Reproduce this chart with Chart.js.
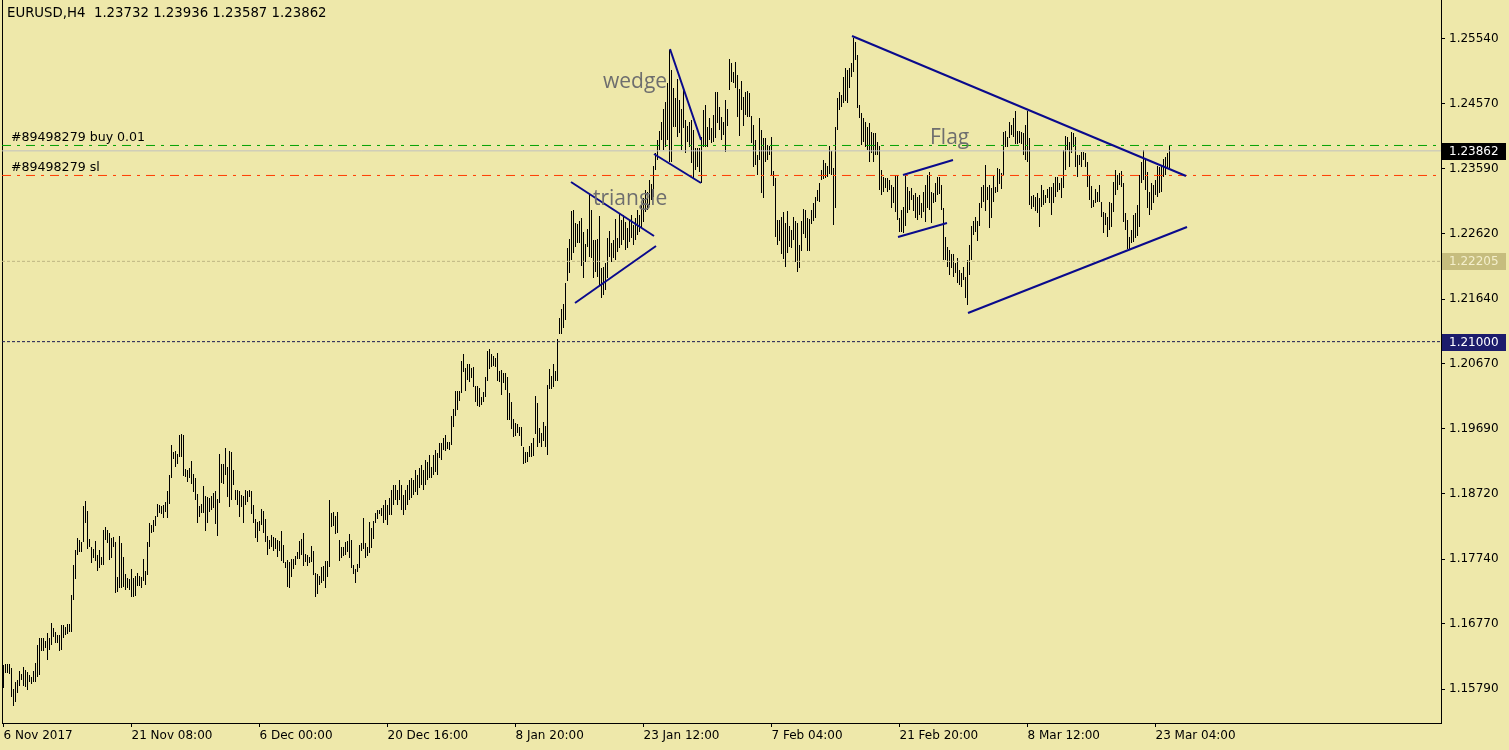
<!DOCTYPE html>
<html><head><meta charset="utf-8">
<script src="https://cdn.jsdelivr.net/npm/chart.js@4.4.1/dist/chart.umd.min.js"></script>
<style>html,body{margin:0;padding:0;background:#EEE8AA;overflow:hidden}canvas{display:block;background:#EEE8AA}</style>
</head><body><canvas id="c" width="1509" height="750"></canvas>
<script>
// ---------- data ----------
const headerText = "EURUSD,H4  1.23732 1.23936 1.23587 1.23862";
const dateTickIndex = [0,64,128,192,256,320,384,448,512,576];
const dateTickLabels = ["6 Nov 2017","21 Nov 08:00","6 Dec 00:00","20 Dec 16:00","8 Jan 20:00","23 Jan 12:00","7 Feb 04:00","21 Feb 20:00","8 Mar 12:00","23 Mar 04:00"];
const priceTicks = [1.2554,1.2457,1.2359,1.2262,1.2164,1.2067,1.1969,1.1872,1.1774,1.1677,1.1579];

const highs = [
1.16150,1.16165,1.16165,1.16165,1.16105,1.15790,1.15895,1.15925,1.16060,1.16015,
1.16120,1.16075,1.16045,1.16000,1.15970,1.16060,1.16180,1.16450,1.16555,1.16555,
1.16555,1.16510,1.16630,1.16555,1.16780,1.16705,1.16645,1.16600,1.16600,1.16750,
1.16750,1.16720,1.16765,1.16765,1.17200,1.17650,1.17875,1.18055,1.18025,1.17995,
1.18535,1.18610,1.18460,1.18040,1.17920,1.17890,1.18010,1.17800,1.17875,1.17770,
1.18175,1.18220,1.18175,1.18130,1.18055,1.18070,1.17995,1.17470,1.18085,1.17980,
1.17770,1.17515,1.17455,1.17440,1.17590,1.17455,1.17485,1.17530,1.17485,1.17470,
1.17740,1.17560,1.17995,1.18280,1.18250,1.18325,1.18385,1.18565,1.18550,1.18535,
1.18550,1.18595,1.18760,1.19000,1.19450,1.19345,1.19360,1.19315,1.19600,1.19615,
1.19600,1.19090,1.19075,1.19105,1.19210,1.19015,1.18955,1.18715,1.18535,1.18565,
1.18835,1.18685,1.18670,1.18655,1.18685,1.18730,1.18760,1.18640,1.19315,1.19165,
1.19165,1.19405,1.19120,1.19360,1.19345,1.19075,1.18775,1.18775,1.18760,1.18700,
1.18685,1.18775,1.18760,1.18775,1.18760,1.18550,1.18340,1.18295,1.18310,1.18490,
1.18460,1.18340,1.18085,1.18025,1.18100,1.18070,1.18055,1.18025,1.18010,1.18160,
1.17950,1.17695,1.17725,1.17695,1.17740,1.17740,1.17785,1.17845,1.18010,1.18040,
1.18130,1.17815,1.17800,1.17770,1.17935,1.17860,1.17530,1.17515,1.17485,1.17620,
1.17635,1.17710,1.17710,1.18625,1.18430,1.18445,1.18385,1.18445,1.18025,1.17920,
1.17920,1.17995,1.18010,1.18115,1.18025,1.17650,1.17590,1.17665,1.17950,1.17980,
1.18355,1.17980,1.17920,1.18295,1.18205,1.18310,1.18430,1.18475,1.18475,1.18505,
1.18550,1.18625,1.18550,1.18655,1.18775,1.18850,1.18850,1.18775,1.18925,1.18850,
1.18700,1.18775,1.18850,1.18925,1.18955,1.18925,1.19075,1.19000,1.19105,1.19150,
1.19075,1.19225,1.19195,1.19300,1.19120,1.19300,1.19375,1.19330,1.19480,1.19480,
1.19555,1.19600,1.19495,1.19495,1.19885,1.19990,1.20260,1.20260,1.20260,1.20710,
1.20815,1.20605,1.20665,1.20665,1.20605,1.20620,1.20335,1.20335,1.20305,1.20170,
1.20245,1.20470,1.20860,1.20890,1.20815,1.20785,1.20755,1.20830,1.20560,1.20575,
1.20530,1.20530,1.20470,1.20230,1.20095,1.19840,1.19780,1.19765,1.19720,1.19720,
1.19420,1.19345,1.19345,1.19435,1.19480,1.19555,1.20185,1.20080,1.19705,1.19630,
1.19795,1.19735,1.20350,1.20590,1.20485,1.20665,1.20560,1.21040,1.21355,1.21490,
1.21565,1.21880,1.22405,1.22540,1.22960,1.22975,1.22780,1.22765,1.22810,1.22855,
1.22645,1.22465,1.22690,1.23215,1.22975,1.22525,1.22525,1.22540,1.22885,1.22105,
1.22120,1.22180,1.22555,1.22660,1.22480,1.22525,1.22840,1.22555,1.22930,1.22825,
1.22900,1.22795,1.22705,1.22825,1.22900,1.22750,1.22855,1.22975,1.22900,1.23050,
1.23155,1.23275,1.23245,1.23425,1.23365,1.23635,1.23830,1.24025,1.24160,1.24295,
1.24490,1.24595,1.24880,1.25375,1.25075,1.24805,1.24655,1.24940,1.24625,1.24490,
1.24775,1.24325,1.24235,1.24295,1.24325,1.24175,1.23905,1.23905,1.23905,1.24070,
1.24475,1.24550,1.24220,1.24355,1.24205,1.24400,1.24745,1.24745,1.24520,1.24370,
1.24295,1.24625,1.24490,1.25240,1.25180,1.25045,1.25195,1.25000,1.24790,1.24910,
1.24670,1.24745,1.24760,1.24730,1.24385,1.24250,1.24025,1.23800,1.24355,1.24175,
1.24055,1.24055,1.23950,1.23935,1.24070,1.23560,1.23455,1.22825,1.22825,1.22870,
1.22945,1.22780,1.22960,1.22735,1.22675,1.22870,1.22810,1.22780,1.22450,1.22810,
1.22990,1.22975,1.22855,1.22840,1.22975,1.23080,1.23170,1.23275,1.23380,1.23575,
1.23725,1.23680,1.23635,1.23935,1.23860,1.23605,1.24220,1.24655,1.24745,1.24700,
1.24970,1.25105,1.25075,1.25105,1.25180,1.25555,1.25495,1.25300,1.24550,1.24430,
1.24355,1.24295,1.24220,1.24280,1.24145,1.24130,1.24130,1.23995,1.23935,1.23575,
1.23470,1.23455,1.23455,1.23425,1.23350,1.23320,1.23500,1.23500,1.22855,1.22975,
1.23020,1.23485,1.23320,1.23260,1.23305,1.23200,1.23230,1.23170,1.23200,1.23080,
1.23245,1.23350,1.23500,1.23545,1.23245,1.23230,1.23380,1.23470,1.23470,1.23350,
1.23005,1.22570,1.22420,1.22375,1.22315,1.22315,1.22180,1.22255,1.22075,1.22030,
1.22120,1.21970,1.22225,1.22450,1.22735,1.22810,1.22870,1.22810,1.23080,1.23320,
1.23350,1.23650,1.23320,1.23350,1.23305,1.23485,1.23320,1.23605,1.23590,1.23530,
1.24145,1.24160,1.24070,1.24295,1.24250,1.24355,1.24460,1.24160,1.24160,1.24145,
1.24130,1.24250,1.24460,1.24055,1.23185,1.23200,1.23170,1.23230,1.23155,1.23350,
1.23275,1.23200,1.23290,1.23320,1.23320,1.23380,1.23470,1.23470,1.23380,1.23455,
1.23875,1.24085,1.24070,1.23995,1.24145,1.24130,1.24070,1.23800,1.23800,1.23845,
1.23845,1.23830,1.23695,1.23500,1.23335,1.23125,1.23290,1.23245,1.23350,1.23095,
1.22945,1.22930,1.22870,1.23095,1.23080,1.23395,1.23575,1.23500,1.23530,1.23560,
1.23380,1.22930,1.22825,1.22570,1.22675,1.22900,1.22930,1.23050,1.23500,1.23695,
1.23875,1.23755,1.23545,1.23245,1.23380,1.23350,1.23425,1.23635,1.23620,1.23650,
1.23740,1.23770,1.23830,1.23936
];

const lows = [
1.15805,1.16030,1.16030,1.16015,1.15670,1.15535,1.15595,1.15730,1.15835,1.15925,
1.15835,1.15820,1.15775,1.15895,1.15865,1.15895,1.15895,1.15970,1.16000,1.16360,
1.16360,1.16405,1.16225,1.16375,1.16450,1.16570,1.16480,1.16480,1.16360,1.16375,
1.16555,1.16600,1.16615,1.16645,1.16645,1.17125,1.17440,1.17800,1.17845,1.17845,
1.17995,1.18280,1.17890,1.17920,1.17680,1.17755,1.17710,1.17560,1.17605,1.17650,
1.17650,1.18025,1.17980,1.17725,1.17755,1.17920,1.17230,1.17245,1.17305,1.17305,
1.17320,1.17275,1.17305,1.17275,1.17170,1.17170,1.17185,1.17335,1.17335,1.17305,
1.17410,1.17350,1.17500,1.17920,1.18130,1.18145,1.18235,1.18370,1.18430,1.18415,
1.18355,1.18445,1.18355,1.18565,1.18955,1.19240,1.19120,1.19165,1.19270,1.19270,
1.18985,1.18970,1.18895,1.18955,1.18865,1.18745,1.18625,1.18280,1.18370,1.18430,
1.18430,1.18160,1.18280,1.18445,1.18475,1.18505,1.18265,1.18085,1.18580,1.18880,
1.18865,1.19000,1.18670,1.18520,1.18625,1.18850,1.18625,1.18550,1.18370,1.18520,
1.18280,1.18550,1.18595,1.18670,1.18415,1.18280,1.18055,1.17995,1.18160,1.18250,
1.18130,1.17995,1.17800,1.17890,1.17920,1.17860,1.17890,1.17770,1.17860,1.17710,
1.17680,1.17605,1.17320,1.17305,1.17470,1.17590,1.17650,1.17740,1.17740,1.17800,
1.17635,1.17695,1.17635,1.17680,1.17695,1.17500,1.17170,1.17215,1.17350,1.17380,
1.17410,1.17305,1.17470,1.17620,1.18220,1.18235,1.18115,1.18130,1.17710,1.17755,
1.17785,1.17800,1.17845,1.17755,1.17605,1.17515,1.17380,1.17545,1.17605,1.17860,
1.17890,1.17755,1.17785,1.17830,1.17905,1.18040,1.18280,1.18340,1.18415,1.18385,
1.18280,1.18325,1.18250,1.18400,1.18400,1.18550,1.18625,1.18550,1.18625,1.18475,
1.18400,1.18475,1.18550,1.18625,1.18655,1.18700,1.18745,1.18700,1.18805,1.18850,
1.18775,1.18850,1.18925,1.18955,1.18955,1.19000,1.19045,1.19000,1.19255,1.19225,
1.19375,1.19360,1.19390,1.19375,1.19450,1.19720,1.19885,1.19975,1.20110,1.20230,
1.20545,1.20260,1.20425,1.20395,1.20455,1.20320,1.20095,1.20035,1.20020,1.20050,
1.20095,1.20170,1.20410,1.20590,1.20620,1.20635,1.20620,1.20410,1.20395,1.20200,
1.20380,1.20275,1.19825,1.19825,1.19690,1.19570,1.19585,1.19630,1.19585,1.19435,
1.19165,1.19180,1.19195,1.19270,1.19270,1.19285,1.19615,1.19420,1.19480,1.19420,
1.19510,1.19420,1.19300,1.20290,1.20290,1.20320,1.20410,1.20410,1.21115,1.21115,
1.21205,1.21325,1.21910,1.22030,1.22225,1.22330,1.22420,1.22480,1.22480,1.22135,
1.21955,1.22195,1.22420,1.22270,1.22255,1.21955,1.22045,1.21970,1.21835,1.21655,
1.21700,1.21775,1.21955,1.22270,1.22195,1.22255,1.22225,1.22345,1.22405,1.22450,
1.22525,1.22375,1.22405,1.22495,1.22555,1.22450,1.22525,1.22600,1.22645,1.22705,
1.22795,1.22945,1.22975,1.23050,1.23125,1.23170,1.23575,1.23725,1.23875,1.24025,
1.23875,1.23920,1.24025,1.23695,1.23695,1.24220,1.24220,1.24070,1.24130,1.23875,
1.24205,1.23830,1.23995,1.23920,1.23680,1.23455,1.23575,1.23620,1.23545,1.23380,
1.23920,1.23920,1.23920,1.24025,1.23980,1.23995,1.24055,1.24280,1.24175,1.24025,
1.24100,1.23845,1.24235,1.24775,1.24895,1.24880,1.24805,1.24370,1.24085,1.24475,
1.24235,1.24400,1.24370,1.24370,1.23980,1.23620,1.23650,1.23500,1.23725,1.23230,
1.23155,1.23695,1.23725,1.23800,1.23500,1.23335,1.22570,1.22450,1.22510,1.22315,
1.22240,1.22120,1.22330,1.22420,1.22405,1.22525,1.22195,1.22045,1.22105,1.22360,
1.22615,1.22555,1.22360,1.22360,1.22765,1.22810,1.22855,1.23110,1.23095,1.23425,
1.23440,1.23455,1.23470,1.23515,1.23500,1.22750,1.23005,1.24175,1.24475,1.24520,
1.24580,1.24610,1.24580,1.24805,1.24970,1.25045,1.25225,1.24505,1.24355,1.23950,
1.23995,1.23920,1.23875,1.23695,1.23830,1.23695,1.23800,1.23800,1.23275,1.23200,
1.23245,1.23305,1.23245,1.23275,1.23005,1.23080,1.22945,1.22825,1.22645,1.22645,
1.22630,1.22735,1.22930,1.22975,1.23125,1.22960,1.22855,1.22825,1.22900,1.22855,
1.22945,1.22795,1.23005,1.22975,1.22780,1.23080,1.23095,1.23200,1.23215,1.22975,
1.22225,1.22225,1.22120,1.22000,1.22105,1.21970,1.22030,1.21880,1.21850,1.21820,
1.21925,1.21655,1.21550,1.22000,1.22225,1.22600,1.22645,1.22510,1.22735,1.23005,
1.23095,1.22960,1.23125,1.22705,1.22855,1.23095,1.23230,1.23245,1.23365,1.23290,
1.23500,1.23920,1.23920,1.24055,1.24100,1.24070,1.23965,1.23965,1.23980,1.23965,
1.23800,1.23725,1.23695,1.23050,1.22990,1.23020,1.22960,1.22930,1.22720,1.23020,
1.23050,1.23080,1.23155,1.23080,1.22900,1.23080,1.23170,1.23245,1.23275,1.23155,
1.23305,1.23575,1.23875,1.23620,1.23830,1.23920,1.23620,1.23470,1.23650,1.23620,
1.23725,1.23620,1.23320,1.23125,1.23005,1.23020,1.23080,1.23095,1.23095,1.22870,
1.22630,1.22750,1.22570,1.22675,1.22720,1.22945,1.23200,1.23275,1.23350,1.23320,
1.22795,1.22675,1.22390,1.22375,1.22480,1.22495,1.22555,1.22585,1.22720,1.23380,
1.23425,1.23275,1.23005,1.22900,1.22975,1.23080,1.23200,1.23170,1.23230,1.23245,
1.23470,1.23500,1.23590,1.23587
];

const bidPrice = 1.23862;
const buyPrice = 1.23943;
const slPrice = 1.23493;
const greyLevel = 1.22205;
const navyLevel = 1.21000;
const orderLabels = ["#89498279 buy 0.01", "#89498279 sl"];

// trend lines: [[barIndex, price], [barIndex, price]]
const trendLines = [
  [[283.75,1.23395],[325.25,1.22585]],
  [[285.75,1.21580],[326.25,1.22435]],
  [[333.25,1.25390],[348.75,1.24025]],
  [[325.25,1.23815],[348.75,1.23380]],
  [[449.75,1.23500],[474.75,1.23725]],
  [[447.25,1.22570],[471.75,1.22780]],
  [[424.25,1.25585],[591.25,1.23485]],
  [[482.25,1.21430],[591.75,1.22720]]
];
const patternLabels = [
  {text:"wedge", bar:299.75, price:1.24805},
  {text:"triangle", bar:294.75, price:1.23050},
  {text:"Flag", bar:463.25, price:1.23965}
];

// ---------- chart ----------
const FONT = "'DejaVu Sans', sans-serif";
const xMin = -0.75, xMax = 718.75;
const yMax = 1.26125, yMin = 1.15280;

function hLine(p, color, dash){
  return {type:'line', data:[{x:xMin,y:p},{x:xMax,y:p}], borderColor:color, borderWidth:1,
    borderDash:dash, borderCapStyle:'butt', pointRadius:0, fill:false, tension:0, order:2};
}
const datasets = [];
datasets.push({type:'bar', data: highs.map((h,i)=>({x:i, y:[lows[i], h]})),
  backgroundColor:'#000000', borderWidth:0, barThickness:1, inflateAmount:0, order:3});
datasets.push(hLine(bidPrice, '#C0C0C0', []));
datasets.push(hLine(buyPrice, '#00A000', [9,6,3,6]));
datasets.push(hLine(slPrice, '#FF3C00', [9,6,3,6]));
datasets.push(hLine(greyLevel, '#BDB583', [3,2]));
datasets.push(hLine(navyLevel, '#1A1A50', [3,2]));
trendLines.forEach(t=>datasets.push({type:'line', data:t.map(p=>({x:p[0],y:p[1]})),
  borderColor:'#0A0A8C', borderWidth:2, pointRadius:0, fill:false, tension:0, order:1}));

const priceBoxes = [
  {v:bidPrice, bg:'#000000', fg:'#FFFFFF'},
  {v:greyLevel, bg:'#C6BD7E', fg:'#F4EFCB'},
  {v:navyLevel, bg:'#1C1C6C', fg:'#FFFFFF'}
];

const overlay = {
  id:'overlay',
  afterDatasetsDraw(chart){
    const {ctx, scales:{x,y}, chartArea} = chart;
    ctx.save();
    ctx.fillStyle = '#6E6E6E';
    ctx.font = "21px 'Open Sans', sans-serif";
    ctx.textBaseline = 'alphabetic';
    ctx.textAlign = 'left';
    patternLabels.forEach(l=>ctx.fillText(l.text, x.getPixelForValue(l.bar), y.getPixelForValue(l.price)));
    ctx.fillStyle = '#000';
    ctx.font = "12.6px " + FONT;
    ctx.textBaseline = 'middle';
    ctx.fillText(orderLabels[0], chartArea.left + 9, y.getPixelForValue(buyPrice) - 8);
    ctx.fillText(orderLabels[1], chartArea.left + 9, y.getPixelForValue(slPrice) - 8);
    ctx.font = "13.3px " + FONT;
    ctx.fillText(headerText, 7, 14);
    ctx.restore();
  },
  afterDraw(chart){
    const {ctx, scales:{y}, chartArea} = chart;
    ctx.save();
    ctx.font = "12px " + FONT;
    ctx.textBaseline = 'middle';
    ctx.textAlign = 'left';
    priceBoxes.forEach(b=>{
      const py = Math.round(y.getPixelForValue(b.v));
      ctx.fillStyle = b.bg;
      ctx.fillRect(chartArea.right + 1, py - 8, 64, 17);
      ctx.fillStyle = b.fg;
      ctx.fillText(b.v.toFixed(5), chartArea.right + 8, py + 0.5);
    });
    ctx.restore();
  }
};

new Chart(document.getElementById('c'), {
  data:{datasets},
  options:{
    responsive:false, animation:false, devicePixelRatio:1, events:[],
    layout:{padding:0},
    plugins:{legend:{display:false}, tooltip:{enabled:false}},
    scales:{
      x:{type:'linear', position:'bottom', min:xMin, max:xMax, bounds:'data', offset:false,
        afterBuildTicks(s){ s.ticks = dateTickIndex.map(v=>({value:v})); },
        afterFit(s){ s.height = 27; s.paddingLeft = 0; s.paddingRight = 0; },
        ticks:{autoSkip:false, maxRotation:0, minRotation:0, align:'start', color:'#000', padding:2,
          font:{family:FONT, size:12}, callback:(v,i)=>dateTickLabels[i]},
        grid:{offset:false, drawOnChartArea:false, drawTicks:true, tickLength:4, color:'#000', lineWidth:1},
        border:{display:true, color:'#000', width:1}},
      y:{type:'linear', position:'right', min:yMin, max:yMax, bounds:'data',
        afterBuildTicks(s){ s.ticks = priceTicks.map(v=>({value:v})); },
        afterFit(s){ s.width = 68; s.paddingTop = 0; s.paddingBottom = 0; },
        ticks:{color:'#000', padding:4, font:{family:FONT, size:12}, callback:(v)=>Number(v).toFixed(5)},
        grid:{drawOnChartArea:false, drawTicks:true, tickLength:4, color:'#000', lineWidth:1},
        border:{display:true, color:'#000', width:1}},
      yL:{type:'linear', position:'left', min:yMin, max:yMax, bounds:'data',
        afterFit(s){ s.width = 2; s.paddingTop = 0; s.paddingBottom = 0; },
        ticks:{display:false}, grid:{display:false, drawTicks:false},
        border:{display:true, color:'#000', width:1}}
    }
  },
  plugins:[overlay]
});
</script>
</body></html>
